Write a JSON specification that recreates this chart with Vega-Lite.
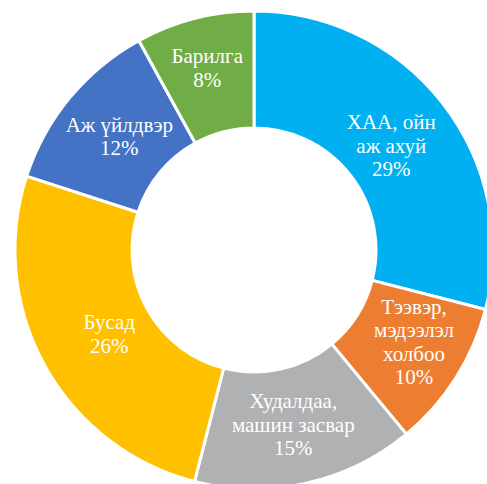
{
  "$schema": "https://vega.github.io/schema/vega-lite/v6.json",
  "width": 466,
  "height": 468,
  "autosize": "none",
  "padding": {"left": 21, "top": 16, "right": 0, "bottom": 0},
  "background": "white",
  "data": {
    "values": [
      {"sector": "ХАА, ойн аж ахуй", "value": 29, "idx": 1, "label": "ХАА, ойн\nаж ахуй\n29%"},
      {"sector": "Тээвэр, мэдээлэл холбоо", "value": 10, "idx": 2, "label": "Тээвэр,\nмэдээлэл\nхолбоо\n10%"},
      {"sector": "Худалдаа, машин засвар", "value": 15, "idx": 3, "label": "Худалдаа,\nмашин засвар\n15%"},
      {"sector": "Бусад", "value": 26, "idx": 4, "label": "Бусад\n26%"},
      {"sector": "Аж үйлдвэр", "value": 12, "idx": 5, "label": "Аж үйлдвэр\n12%"},
      {"sector": "Барилга", "value": 8, "idx": 6, "label": "Барилга\n8%"}
    ]
  },
  "encoding": {
    "theta": {"field": "value", "type": "quantitative", "stack": true},
    "order": {"field": "idx", "type": "quantitative"},
    "color": {
      "field": "sector",
      "type": "nominal",
      "legend": null,
      "scale": {
        "domain": ["ХАА, ойн аж ахуй", "Тээвэр, мэдээлэл холбоо", "Худалдаа, машин засвар", "Бусад", "Аж үйлдвэр", "Барилга"],
        "range": ["#00B0F0", "#ED7D31", "#B0B1B3", "#FFC000", "#4472C4", "#70AD47"]
      }
    }
  },
  "layer": [
    {
      "mark": {"type": "arc", "outerRadius": 239, "innerRadius": 122, "stroke": "white", "strokeWidth": 3}
    },
    {
      "mark": {"type": "text", "radius": 180, "lineBreak": "\n", "font": "Liberation Serif", "fontSize": 21, "lineHeight": 23.5, "align": "center", "baseline": "middle", "dy": -16.5, "dx": -5},
      "encoding": {
        "text": {"condition": {"test": "datum.idx == 1", "field": "label"}, "value": ""},
        "color": {"value": "white"}
      }
    },
    {
      "mark": {"type": "text", "radius": 180, "lineBreak": "\n", "font": "Liberation Serif", "fontSize": 21, "lineHeight": 23.5, "align": "center", "baseline": "middle", "dy": -38.5, "dx": 8},
      "encoding": {
        "text": {"condition": {"test": "datum.idx == 2", "field": "label"}, "value": ""},
        "color": {"value": "white"}
      }
    },
    {
      "mark": {"type": "text", "radius": 180, "lineBreak": "\n", "font": "Liberation Serif", "fontSize": 21, "lineHeight": 23.5, "align": "center", "baseline": "middle", "dy": -23.5},
      "encoding": {
        "text": {"condition": {"test": "datum.idx == 3", "field": "label"}, "value": ""},
        "color": {"value": "white"}
      }
    },
    {
      "mark": {"type": "text", "radius": 180, "lineBreak": "\n", "font": "Liberation Serif", "fontSize": 21, "lineHeight": 23.5, "align": "center", "baseline": "middle", "dy": -13.5, "dx": 13},
      "encoding": {
        "text": {"condition": {"test": "datum.idx == 4", "field": "label"}, "value": ""},
        "color": {"value": "white"}
      }
    },
    {
      "mark": {"type": "text", "radius": 180, "lineBreak": "\n", "font": "Liberation Serif", "fontSize": 21, "lineHeight": 23.5, "align": "center", "baseline": "middle", "dy": -9.5, "dx": 4},
      "encoding": {
        "text": {"condition": {"test": "datum.idx == 5", "field": "label"}, "value": ""},
        "color": {"value": "white"}
      }
    },
    {
      "mark": {"type": "text", "radius": 180, "lineBreak": "\n", "font": "Liberation Serif", "fontSize": 21, "lineHeight": 23.5, "align": "center", "baseline": "middle", "dy": -18.5, "dx": -2},
      "encoding": {
        "text": {"condition": {"test": "datum.idx == 6", "field": "label"}, "value": ""},
        "color": {"value": "white"}
      }
    }
  ],
  "config": {"view": {"stroke": null}}
}
